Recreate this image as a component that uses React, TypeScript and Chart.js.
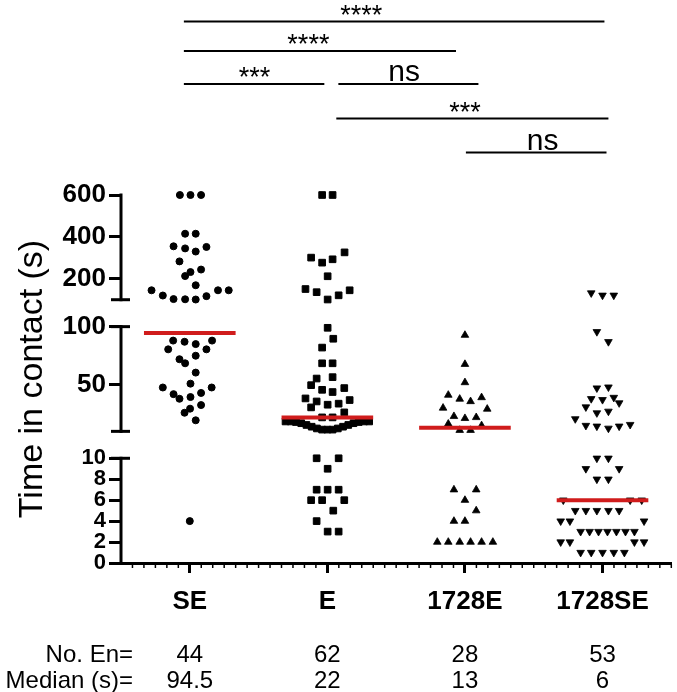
import React, { useEffect, useRef } from 'react';
import { Chart, LinearScale, registerables } from 'chart.js';

const FONT = "'Liberation Sans', Arial, Helvetica, sans-serif";

// ---------- data ----------
const categories = ['SE', 'E', '1728E', '1728SE'];
const countsEn = [44, 62, 28, 53];
const medians = [94.5, 22, 13, 6];
const medianLabels = ['94.5', '22', '13', '6'];

// broken y axis: segments (value ranges)
const axisSegments: number[][] = [[0, 10], [10, 100], [100, 600]];
const yTickValues = [0, 2, 4, 6, 8, 10, 50, 100, 200, 400, 600];

// SE (circles)
const seValues = [
  600, 600, 600, 415, 415, 355, 345, 330, 352, 283, 232, 213, 244, 169,
  145, 120, 103, 102, 101, 117, 145, 145,
  88, 87, 85, 88, 80.5, 75, 80.5, 72, 68.5, 60.5, 47.7, 51, 47.7, 42, 38, 39.5, 43, 26, 29.5, 32.6, 19.5,
  4,
];
const seOffsets = [
  -0.072, 0.005, 0.082, -0.034, 0.043, -0.118, -0.034, 0.043, 0.121, -0.075, 0.005, -0.034, 0.082, 0.043,
  -0.278, -0.196, -0.118, -0.034, 0.043, 0.121, 0.205, 0.283,
  -0.121, -0.038, 0.043, 0.162, -0.157, 0.043, 0.121, -0.075, -0.034, 0.043, -0.196, 0.005, 0.159, -0.118, -0.075, 0.005, 0.082, -0.038, 0.002, 0.082, 0.043,
  0,
];

// E (squares)
const eValues = [
  600, 600, 301, 277, 293, 326, 212, 151, 136, 101, 121, 145,
  99, 89.6, 82, 68.5, 68.5, 55.4, 56.6, 49.7, 45.7, 43.8, 47.2, 38.3, 35.7, 32.9, 33.8, 36.9, 30.6, 22, 22, 26.3,
  18.5, 18.5, 18, 17, 15.5, 14, 12.5, 11.5, 11.5, 11.5, 12.5, 14, 15.5, 17, 18, 18.5, 18.5,
  10, 10, 9, 7, 7, 7, 6, 6, 6, 5, 4, 3, 3,
];
const eOffsets = [
  -0.038, 0.038, -0.118, -0.038, 0.038, 0.125, 0.002, -0.159, -0.078, 0.002, 0.082, 0.162,
  0.002, 0.043, -0.038, -0.038, 0.038, -0.078, 0.038, -0.118, -0.038, 0.038, 0.123, -0.159, -0.078, 0.002, 0.082, 0.162, -0.118, -0.038, 0.038, 0.123,
  -0.304, -0.266, -0.228, -0.19, -0.152, -0.114, -0.076, -0.038, 0, 0.038, 0.076, 0.114, 0.152, 0.19, 0.228, 0.266, 0.304,
  -0.078, 0.082, 0.002, -0.078, 0.002, 0.082, -0.118, -0.038, 0.123, 0.043, -0.078, 0.002, 0.082,
];

// 1728E (triangles up)
const e1728Values = [
  92.7, 67.7, 52, 41.2, 37.8, 35.7, 39.1, 30.1, 29.2, 22.9, 21.2, 22, 16.4, 15, 11, 11,
  7, 7, 6, 5, 4, 4, 2, 2, 2, 2, 2, 2,
];
const e1728Offsets = [
  0, 0, 0, -0.121, -0.038, 0.041, 0.121, -0.159, 0.162, -0.08, 0, 0.082, -0.121, 0.121, -0.038, 0.041,
  -0.08, 0.082, 0, 0.082, -0.08, 0, -0.201, -0.121, -0.038, 0.041, 0.121, 0.203,
];

// 1728SE (triangles down)
const se1728Values = [
  132, 121, 121, 95.6, 87, 47.2, 48, 38, 37.2, 39.1, 34.4, 30.9, 25.8, 27.2, 20.7, 15, 14.4, 12.6, 14.4, 15.8,
  10, 10, 9, 9, 8, 8, 6, 6, 6, 5, 5, 5, 5, 5, 4, 4, 4, 3, 3, 3, 3, 3, 3, 3, 2, 2, 2, 2, 1, 1, 1, 1, 1,
];
const se1728Offsets = [
  -0.082, 0, 0.082, -0.041, 0.043, -0.041, 0.043, -0.082, 0, 0.082, 0.121, -0.121, -0.041, 0.043, -0.198, -0.121, -0.041, 0.043, 0.121, 0.201,
  -0.041, 0.043, -0.121, 0.121, -0.041, 0.043, -0.285, 0.201, 0.285, -0.198, -0.121, -0.041, 0.043, 0.121, -0.304, -0.237, 0.302,
  -0.159, -0.094, -0.029, 0.036, 0.101, 0.167, 0.232, -0.304, -0.237, 0.232, 0.302, -0.159, -0.082, 0, 0.082, 0.159,
];

// significance comparisons
const sigLabels = ['****', '****', '***', 'ns', '***', 'ns'];
const sigFrom = [-0.043, -0.043, -0.043, 1.08, 1.065, 2.007];
const sigTo = [3.014, 1.935, 0.978, 2.098, 3.043, 3.029];
const sigTextAt = [1.246, 0.862, 0.471, 1.558, 2.0, 2.565];
const sigRow = [0, 1, 2, 2, 3, 4];

// ---------- broken scale ----------
const SEG = 105;
const GAP = 27;
const TOT = SEG * axisSegments.length + GAP * (axisSegments.length - 1);

function segDecimal(i: number, v: number) {
  const [lo, hi] = axisSegments[i];
  return (i * (SEG + GAP)) / TOT + ((v - lo) / (hi - lo)) * (SEG / TOT);
}
function brokenDecimal(v: number) {
  for (let i = 0; i < axisSegments.length; i++) {
    if (v <= axisSegments[i][1] || i === axisSegments.length - 1) return segDecimal(i, v);
  }
  return 0;
}
function valueFromDecimal(d: number) {
  for (let i = axisSegments.length - 1; i >= 0; i--) {
    const start = (i * (SEG + GAP)) / TOT;
    if (d >= start || i === 0) {
      const [lo, hi] = axisSegments[i];
      const f = Math.min(1, (d - start) / (SEG / TOT));
      return lo + f * (hi - lo);
    }
  }
  return 0;
}

class BrokenScale extends LinearScale {
  static id = 'broken';
  static defaults = LinearScale.defaults;
  getPixelForValue(value: any) {
    if (value === null || value === undefined || isNaN(value)) return NaN;
    return (this as any).getPixelForDecimal(brokenDecimal(+value));
  }
  getValueForPixel(pixel: number) {
    return valueFromDecimal((this as any).getDecimalForPixel(pixel));
  }
}

Chart.register(...registerables, BrokenScale as any);

const RED = '#d01c1c';
const ROW_Y = [21.5, 51, 84, 118.5, 152.5];

const decorPlugin = {
  id: 'decor',
  afterDraw(chart: any) {
    const ctx = chart.ctx as CanvasRenderingContext2D;
    const xs = chart.scales.x;
    const ys = chart.scales.y;
    const ax = chart.chartArea.left;
    const axisY = chart.chartArea.bottom;
    ctx.save();
    ctx.strokeStyle = '#000';
    ctx.fillStyle = '#000';
    ctx.lineCap = 'butt';
    // broken y axis line + caps
    ctx.lineWidth = 3;
    axisSegments.forEach(([lo, hi], i) => {
      const yTop = ys.getPixelForDecimal(segDecimal(i, hi));
      const yBot = ys.getPixelForDecimal(segDecimal(i, lo));
      ctx.beginPath();
      ctx.moveTo(ax, yBot + 1.5);
      ctx.lineTo(ax, yTop - 1.5);
      ctx.stroke();
      if (i > 0) {
        ctx.beginPath();
        ctx.moveTo(ax - 10, yBot);
        ctx.lineTo(ax + 9, yBot);
        ctx.stroke();
      }
      if (i < axisSegments.length - 1) {
        ctx.beginPath();
        ctx.moveTo(ax - 10, yTop);
        ctx.lineTo(ax + 9, yTop);
        ctx.stroke();
      }
    });
    // minor x ticks
    ctx.lineWidth = 1.5;
    for (let k = 1; k <= 48; k++) {
      if (k % 12 === 6) continue;
      const px = xs.getPixelForValue(-0.5 + k / 12);
      ctx.beginPath();
      ctx.moveTo(px, axisY + 1);
      ctx.lineTo(px, axisY + 5);
      ctx.stroke();
    }
    // significance brackets
    ctx.lineWidth = 2;
    ctx.textAlign = 'center';
    ctx.textBaseline = 'alphabetic';
    sigLabels.forEach((lab, i) => {
      const y = ROW_Y[sigRow[i]];
      ctx.beginPath();
      ctx.moveTo(xs.getPixelForValue(sigFrom[i]), y);
      ctx.lineTo(xs.getPixelForValue(sigTo[i]), y);
      ctx.stroke();
      const isNs = lab === 'ns';
      ctx.font = isNs ? `30px ${FONT}` : `27px ${FONT}`;
      const ty = isNs ? y - 3 : y + 2;
      ctx.fillText(lab, xs.getPixelForValue(sigTextAt[i]), ty);
    });
    // table below
    ctx.font = `24px ${FONT}`;
    ctx.textBaseline = 'middle';
    const rows = [
      { label: 'No. En=', vals: countsEn.map(String), y: 655 },
      { label: 'Median (s)=', vals: medianLabels, y: 681 },
    ];
    rows.forEach((r) => {
      ctx.textAlign = 'right';
      ctx.fillText(r.label, 133, r.y);
      ctx.textAlign = 'center';
      r.vals.forEach((v, i) => ctx.fillText(v, xs.getPixelForValue(i), r.y));
    });
    ctx.restore();
  },
};

function pts(values: number[], offsets: number[], idx: number) {
  return values.map((v, i) => ({ x: idx + offsets[i], y: v }));
}

export default function App() {
  const ref = useRef<HTMLCanvasElement>(null);
  useEffect(() => {
    if (!ref.current) return;
    const base = { type: 'scatter', backgroundColor: '#000', borderColor: '#000', clip: false, order: 1 };
    const datasets: any[] = [
      { ...base, data: pts(seValues, seOffsets, 0), pointStyle: 'circle', pointRadius: 3.5, borderWidth: 1 },
      { ...base, data: pts(eValues, eOffsets, 1), pointStyle: 'rect', pointRadius: 4.7, borderWidth: 1 },
      { ...base, data: pts(e1728Values, e1728Offsets, 2), pointStyle: 'triangle', pointRadius: 4.4, borderWidth: 0.8 },
      { ...base, data: pts(se1728Values, se1728Offsets, 3), pointStyle: 'triangle', pointRotation: 180, pointRadius: 4.4, borderWidth: 0.8 },
      ...medians.map((m, i) => ({
        type: 'line',
        data: [{ x: i - 0.333, y: m }, { x: i + 0.333, y: m }],
        borderColor: RED,
        backgroundColor: RED,
        borderWidth: 4,
        pointRadius: 0,
        fill: false,
        clip: false,
        order: 0,
      })),
    ];
    const chart = new Chart(ref.current, {
      type: 'scatter',
      data: { datasets },
      options: {
        animation: false,
        responsive: false,
        devicePixelRatio: 1,
        events: [],
        layout: { padding: { top: 195, right: 4, bottom: 0, left: 0 } },
        plugins: { legend: { display: false }, tooltip: { enabled: false } },
        scales: {
          x: {
            type: 'linear',
            min: -0.5,
            max: 3.5,
            afterBuildTicks: (s: any) => { s.ticks = categories.map((_, i) => ({ value: i })); },
            afterFit: (s: any) => { s.height = 129; },
            border: { display: true, width: 3, color: '#000' },
            grid: { drawOnChartArea: false, drawTicks: true, tickLength: 10, tickWidth: 3, tickColor: '#000' },
            ticks: {
              autoSkip: false,
              maxRotation: 0,
              padding: 13,
              color: '#000',
              font: { family: FONT, weight: 'bold', size: 26 },
              callback: (_v: any, i: number) => categories[i],
            },
          },
          y: {
            type: 'broken' as any,
            min: 0,
            max: 600,
            afterBuildTicks: (s: any) => { s.ticks = yTickValues.map((v) => ({ value: v })); },
            afterFit: (s: any) => { s.width = 121; },
            border: { display: false },
            grid: { drawOnChartArea: false, drawTicks: true, tickLength: 12, tickWidth: 3, tickColor: '#000' },
            ticks: {
              autoSkip: false,
              padding: 3,
              color: '#000',
              font: (c: any) => ({ family: FONT, weight: 'bold', size: c.tick && c.tick.value <= 10 ? 22 : 26 }),
              callback: (v: any) => String(v),
            },
            title: {
              display: true,
              text: 'Time in contact (s)',
              color: '#000',
              font: { family: FONT, size: 34 },
              padding: { top: 12, bottom: 0 },
            },
          },
        },
      } as any,
      plugins: [decorPlugin],
    });
    return () => chart.destroy();
  }, []);
  return (
    <div style={{ position: 'absolute', left: 0, top: 0, width: 677, height: 692, background: '#fff' }}>
      <canvas ref={ref} width={677} height={692} style={{ display: 'block' }} />
    </div>
  );
}
